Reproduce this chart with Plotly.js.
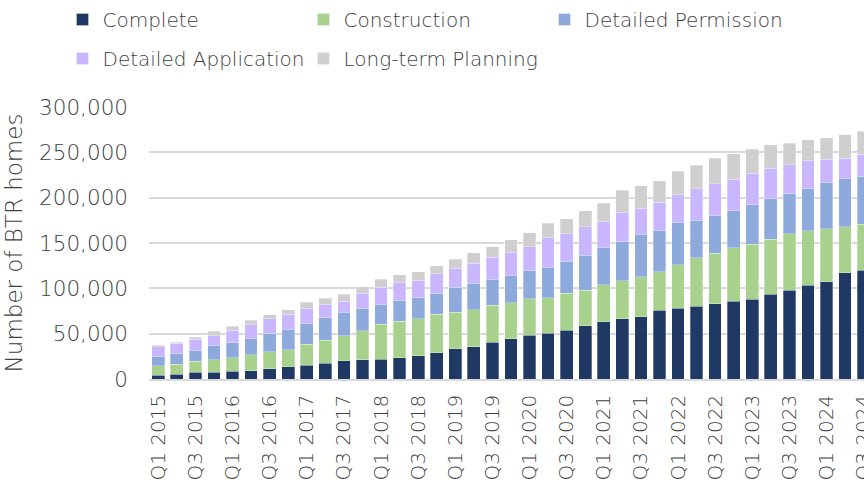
<!DOCTYPE html>
<html>
<head>
<meta charset="utf-8">
<script src="https://cdn.plot.ly/plotly-3.0.1.min.js"></script>
<style>html,body{margin:0;padding:0;background:#fff;}#chart{width:864px;height:486px;}</style>
</head>
<body>
<div id="chart"></div>
<script>
const quarters = [
  "Q1 2015","Q2 2015","Q3 2015","Q4 2015",
  "Q1 2016","Q2 2016","Q3 2016","Q4 2016",
  "Q1 2017","Q2 2017","Q3 2017","Q4 2017",
  "Q1 2018","Q2 2018","Q3 2018","Q4 2018",
  "Q1 2019","Q2 2019","Q3 2019","Q4 2019",
  "Q1 2020","Q2 2020","Q3 2020","Q4 2020",
  "Q1 2021","Q2 2021","Q3 2021","Q4 2021",
  "Q1 2022","Q2 2022","Q3 2022","Q4 2022",
  "Q1 2023","Q2 2023","Q3 2023","Q4 2023",
  "Q1 2024","Q2 2024","Q3 2024"
];
const complete = [4400,5000,7200,7200,8300,9100,11300,13500,14900,17500,20000,21400,21900,23600,25800,29100,33500,35700,40500,44400,48500,50600,53900,58600,63000,66300,68900,76100,78300,80200,83100,86000,88200,93600,97700,103500,107500,117000,119900];
const construction = [10100,11400,12500,13900,15300,17800,18900,18900,23700,25100,27700,31800,38300,40200,40500,42300,40400,40900,40800,39800,40100,39100,40500,39100,40900,42300,44100,42300,47800,53600,55800,58700,60500,60600,62600,60100,58300,51000,50700];
const detailedPermission = [10200,11600,12000,16100,16400,17500,20100,22600,23000,24800,25100,25100,22500,23300,23400,23300,27400,29100,28700,30200,31300,33100,35300,38600,41100,42700,46300,45700,46300,41200,41100,40800,43400,44400,43800,46400,51400,52900,53200];
const detailedApplication = [11000,11300,12000,10500,13600,15300,16000,16400,16700,15300,13200,16400,18600,19300,19200,21200,20800,21800,24100,25200,26200,33200,30600,31700,28500,32400,28800,30600,31000,35000,35500,35000,35000,33900,32100,30600,25200,22600,24000];
const longTermPlanning = [1500,1500,2200,4800,4400,5200,4800,5200,6200,6200,7300,7300,8700,8800,9500,9100,9800,11700,12000,13800,15000,15700,16400,17500,20400,24400,25200,24000,25500,25800,28000,27800,26200,25600,23700,23300,23700,25900,25600];

const seriesNames = ["Complete","Construction","Detailed Permission","Detailed Application","Long-term Planning"];
const seriesColors = ["#1F3864","#A9D18E","#8EA9DB","#C9B6FF","#D0CECE"];
const seriesLegend = ["legend","legend","legend","legend2","legend2"];
const seriesValues = [complete, construction, detailedPermission, detailedApplication, longTermPlanning];
const yTickVals = [0,50000,100000,150000,200000,250000,300000];
const xTickVals = quarters.filter((q,i) => i % 2 === 0);

const FONT = "'DejaVu Sans ExtraLight', 'DejaVu Sans', sans-serif";
const FW = 200;
const TXT = "#404040";
const traces = seriesNames.map((name, i) => ({
  type: "bar",
  name: name,
  legend: seriesLegend[i],
  x: quarters,
  y: seriesValues[i],
  marker: {color: seriesColors[i], line: {color: "rgba(255,255,255,0.5)", width: 0.6}},
  hoverinfo: "x+y+name"
}));

const legendBase = {
  orientation: "h",
  x: -0.121, xanchor: "left",
  yanchor: "middle",
  font: {family: FONT, size: 20, color: TXT, weight: FW},
  entrywidth: 196, entrywidthmode: "pixels",
  traceorder: "normal",
  itemclick: false, itemdoubleclick: false,
  bgcolor: "rgba(0,0,0,0)"
};

const layout = {
  width: 864, height: 486,
  paper_bgcolor: "#ffffff", plot_bgcolor: "#ffffff",
  barmode: "stack",
  bargap: 0.315,
  margin: {l: 149, r: 0, t: 105, b: 107, pad: 0},
  font: {family: FONT, color: TXT, size: 20, weight: FW},
  showlegend: true,
  legend: Object.assign({}, legendBase, {y: 1.324}),
  legend2: Object.assign({}, legendBase, {y: 1.178}),
  xaxis: {
    type: "category",
    range: [-0.5, 38.02],
    tickmode: "array",
    tickvals: xTickVals,
    ticktext: xTickVals,
    tickangle: -90,
    ticks: "",
    tickfont: {family: FONT, size: 20, color: TXT, weight: FW},
    showline: true, linecolor: "#D9D9D9", linewidth: 1.5,
    showgrid: false,
    fixedrange: true,
    ticklabelstandoff: 6
  },
  yaxis: {
    range: [0, 300000],
    tickmode: "array",
    tickvals: yTickVals,
    tickformat: ",d",
    ticks: "",
    tickfont: {family: FONT, size: 21.5, color: TXT, weight: FW},
    showgrid: true, gridcolor: "#D9D9D9", gridwidth: 1.5,
    zeroline: false,
    showline: false,
    ticklabelstandoff: 20,
    title: {text: "Number of BTR homes", font: {family: FONT, size: 23, color: TXT, weight: FW}, standoff: 10},
    fixedrange: true
  }
};

Plotly.newPlot("chart", traces, layout, {displayModeBar: false});
</script>
</body>
</html>
